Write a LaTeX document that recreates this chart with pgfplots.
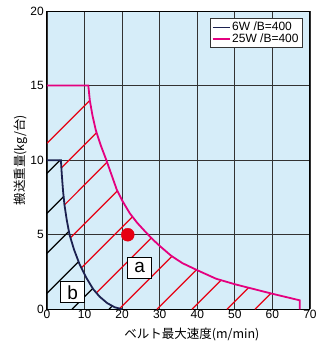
\documentclass[border=0pt]{standalone}
\usepackage{fontspec}
\setmainfont{Liberation Sans}
\newfontfamily\jp{Noto Sans CJK JP}
\usepackage{pgfplots}
\pgfplotsset{compat=1.18}
\definecolor{bg}{HTML}{D6EDF9}
\definecolor{pinkc}{HTML}{E4007F}
\definecolor{navyc}{HTML}{1C2150}
\definecolor{hred}{HTML}{E60012}
\definecolor{gridc}{HTML}{333333}
\begin{document}
\begin{tikzpicture}
\useasboundingbox (-47pt,-39.7pt) rectangle (283pt,309.3pt);
\begin{axis}[
  scale only axis, width=263pt, height=298.3pt,
  xmin=0, xmax=70, ymin=0, ymax=20,
  xtick={0,10,...,70}, ytick={0,5,...,20},
  grid=major, major grid style={gridc, line width=0.9pt},
  axis line style={black, line width=1pt},
  major tick length=0pt,
  axis background/.style={fill=bg},
  tick label style={font=\fontsize{12}{12}\selectfont},
  /pgf/number format/assume math mode=true,
  xticklabel style={inner sep=1pt},
  yticklabel style={inner sep=1pt, xshift=-2pt},
  xlabel={\jp ベルト最大速度(m/min)},
  ylabel={\jp 搬送重量(kg/台)},
  label style={font=\fontsize{12.5}{12.5}\selectfont},
  xlabel style={at={(axis description cs:0.551,-0.086)}, anchor=center},
  ylabel style={at={(axis description cs:-0.099,0.5)}, anchor=center},
  legend style={at={(axis description cs:0.971,0.9755)}, anchor=north east,
    font=\fontsize{12}{12}\selectfont, draw=gridc, line width=0.6pt,
    inner sep=1.5pt, row sep=-2.5pt, fill=white},
  legend cell align=left,
  legend image post style={line width=1.2pt},
]
% red hatching (region a)
\addplot[hred, line width=1.2pt, forget plot] coordinates {(0,11.13) (11.4,14)};
\addplot[hred, line width=1.2pt, forget plot] coordinates {(3.83,9.48) (13.21,11.84)};
\addplot[hred, line width=1.2pt, forget plot] coordinates {(4.65,7.0) (15.99,9.86)};
\addplot[hred, line width=1.2pt, forget plot] coordinates {(6.25,4.79) (18.73,7.94)};
\addplot[hred, line width=1.2pt, forget plot] coordinates {(9.15,2.775) (22.76,6.203)};
\addplot[hred, line width=1.2pt, forget plot] coordinates {(13.15,1.1) (27.77,4.78)};
\addplot[hred, line width=1.2pt, forget plot] coordinates {(19.35,0.046) (33.27,3.55)};
\addplot[hred, line width=1.2pt, forget plot] coordinates {(29.28,0) (39.78,2.646)};
\addplot[hred, line width=1.2pt, forget plot] coordinates {(38.59,0) (46.34,1.951)};
\addplot[hred, line width=1.2pt, forget plot] coordinates {(47.91,0) (53.65,1.446)};
\addplot[hred, line width=1.2pt, forget plot] coordinates {(55.36,0) (59.59,1.066)};
% black hatching (region b)
\addplot[black, line width=1.2pt, forget plot] coordinates {(0,9.118) (3.5,10)};
\addplot[black, line width=1.2pt, forget plot] coordinates {(0,6.437) (4.43,7.55)};
\addplot[black, line width=1.2pt, forget plot] coordinates {(0,3.755) (5.83,5.22)};
\addplot[black, line width=1.2pt, forget plot] coordinates {(0,1.073) (8.41,3.19)};
\addplot[black, line width=1.2pt, forget plot] coordinates {(6.654,0) (12.19,1.395)};
\addplot[black, line width=1.2pt, forget plot] coordinates {(16.5,0) (17.39,0.225)};
% curves
\addplot[navyc, line width=1.8pt] coordinates {
 (0,10) (3.7,10) (3.95,9) (4.25,8) (4.65,7) (5.25,6) (6.0,5) (7.2,4) (8.7,3)
 (10.5,2.1) (12.3,1.35) (14,0.85) (16,0.42) (18,0.14) (20,0)};
\addlegendentry{6W /B=400}
\addplot[pinkc, line width=1.8pt] coordinates {
 (0,15) (11,15) (11.4,14) (12.1,13) (13,12) (14.3,11) (15.8,10) (17.2,9) (18.6,8)
 (20,7.3) (22,6.45) (24,5.8) (26,5.25) (28,4.72) (30,4.25) (33,3.6) (36,3.1)
 (40,2.62) (45,2.05) (50,1.68) (55,1.36) (60,1.04) (64,0.8) (67.3,0.6) (67.3,0)};
\addlegendentry{25W /B=400}
\addplot[only marks, mark=*, mark size=6.5pt, hred, forget plot] coordinates {(21.5,5)};
\node[draw=black, fill=white, line width=1pt, minimum width=24pt, minimum height=21pt,
  inner sep=0pt, font=\fontsize{19}{19}\selectfont] at (axis cs:24.65,2.8) {a};
\node[draw=black, fill=white, line width=1pt, minimum width=24pt, minimum height=21pt,
  inner sep=0pt, font=\fontsize{19}{19}\selectfont] at (axis cs:6.8,1.14) {b};
\end{axis}
\end{tikzpicture}
\end{document}
